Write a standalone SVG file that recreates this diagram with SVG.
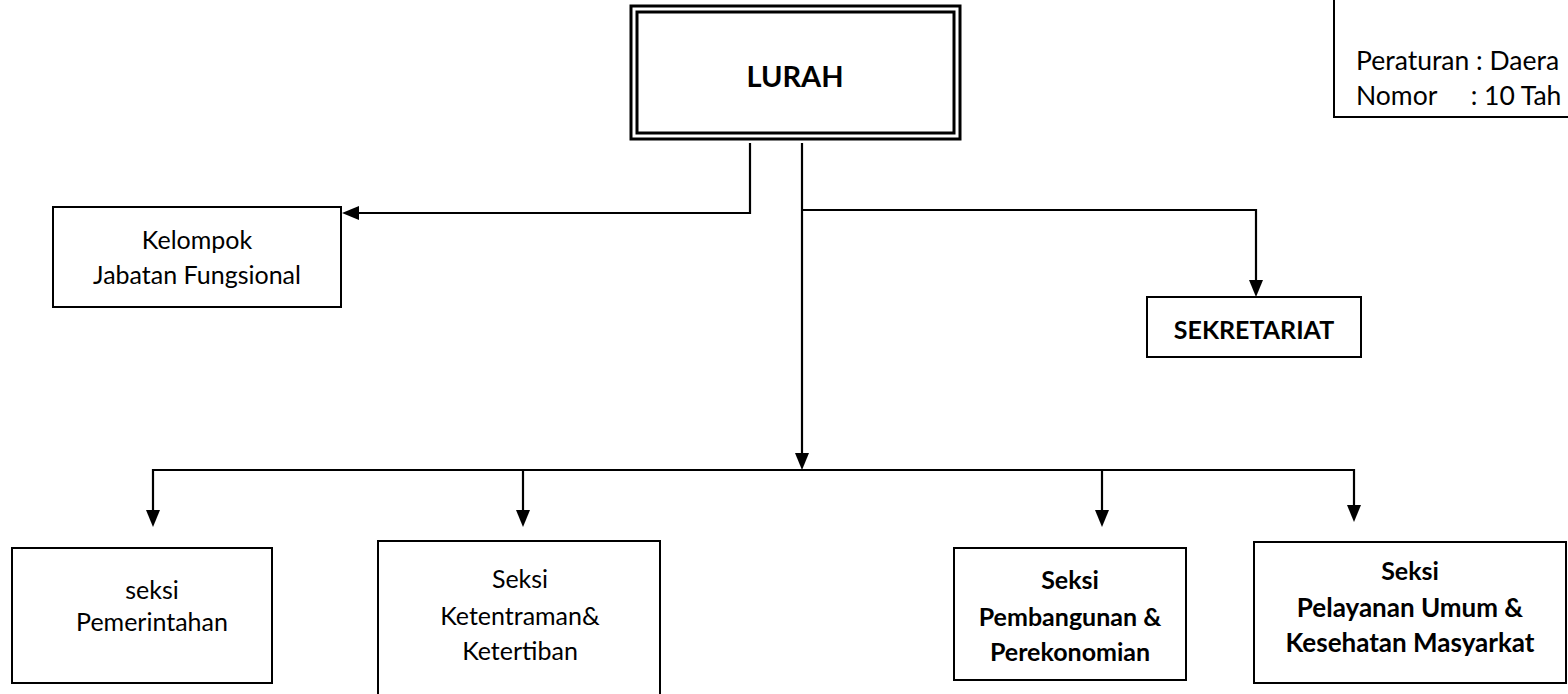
<svg xmlns="http://www.w3.org/2000/svg" width="1568" height="694" viewBox="0 0 1568 694">
<style>
  .box { fill: #fff; stroke: #000; stroke-width: 2; }
  .t { font-family: Lato, "Open Sans", "Liberation Sans", sans-serif; font-size: 25px; fill: #000; text-anchor: middle; }
  .b { font-weight: bold; }
  .ti { font-family: Lato, "Open Sans", "Liberation Sans", sans-serif; font-size: 26.5px; fill: #000; }
  .c { fill: none; stroke: #000; stroke-width: 2.2; }
</style>
<rect width="1568" height="694" fill="#fff"/>

<g id="info">
  <rect class="box" x="1334" y="-5" width="250" height="122"/>
  <text class="ti" x="1356" y="70">Peraturan : Daera</text>
  <text class="ti" x="1356" y="105" xml:space="preserve">Nomor     : 10 Tah</text>
</g>

<g id="connectors">
  <path class="c" d="M750,143 V213 H357"/>
  <path d="M342,213 L359,206 L359,220 Z"/>
  <path class="c" d="M802,143 V455"/>
  <path d="M802,470 L795,453 L809,453 Z"/>
  <path class="c" d="M802,210 H1256 V281"/>
  <path d="M1256,297 L1249,280 L1263,280 Z"/>
  <path class="c" d="M153,515 V470 H1354 V505"/>
  <path d="M153,527 L146,510 L160,510 Z"/>
  <path class="c" d="M523,470 V511"/>
  <path d="M523,527 L516,510 L530,510 Z"/>
  <path class="c" d="M1102,470 V511"/>
  <path d="M1102,527 L1095,510 L1109,510 Z"/>
  <path d="M1354,522 L1347,505 L1361,505 Z"/>
</g>

<g id="lurah">
  <rect x="631" y="6" width="329" height="133" fill="#fff" stroke="#000" stroke-width="3"/>
  <rect x="637" y="12" width="317" height="121" fill="none" stroke="#000" stroke-width="3"/>
  <text class="t b" x="795" y="87" style="font-size:29px">LURAH</text>
</g>

<g id="kelompok">
  <rect class="box" x="53" y="207" width="288" height="100"/>
  <text class="t" x="197" y="249">Kelompok</text>
  <text class="t" x="197" y="284">Jabatan Fungsional</text>
</g>

<g id="sekretariat">
  <rect class="box" x="1147" y="297" width="214" height="60"/>
  <text class="t b" x="1254" y="339">SEKRETARIAT</text>
</g>

<g id="pemerintahan">
  <rect class="box" x="12" y="548" width="260" height="135"/>
  <text class="t" x="152" y="599">seksi</text>
  <text class="t" x="152" y="631">Pemerintahan</text>
</g>

<g id="ketentraman">
  <rect class="box" x="378" y="541" width="282" height="160"/>
  <text class="t" x="520" y="588">Seksi</text>
  <text class="t" x="520" y="625">Ketentraman&amp;</text>
  <text class="t" x="520" y="660">Ketertiban</text>
</g>

<g id="pembangunan">
  <rect class="box" x="954" y="548" width="232" height="132"/>
  <text class="t b" x="1070" y="589">Seksi</text>
  <text class="t b" x="1070" y="626">Pembangunan &amp;</text>
  <text class="t b" x="1070" y="661">Perekonomian</text>
</g>

<g id="pelayanan">
  <rect class="box" x="1254" y="542" width="312" height="141"/>
  <text class="t b" x="1410" y="580">Seksi</text>
  <text class="t b" x="1410" y="617" style="font-size:26px">Pelayanan Umum &amp;</text>
  <text class="t b" x="1410" y="652" style="font-size:26px">Kesehatan Masyarkat</text>
</g>
</svg>
